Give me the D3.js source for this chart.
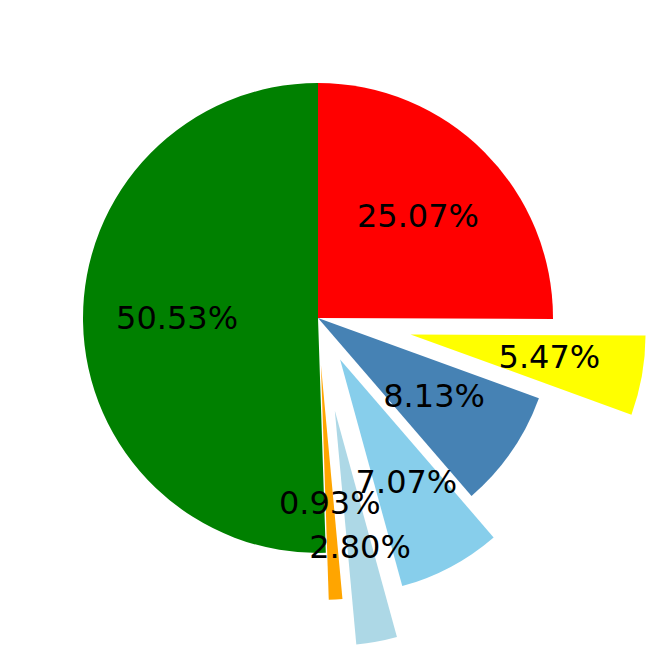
<!DOCTYPE html>
<html>
<head>
<meta charset="utf-8">
<script src="https://cdn.jsdelivr.net/npm/d3@7"></script>
<style>
  body { margin: 0; background: #fff; }
  text { font-family: "DejaVu Sans", sans-serif; }
</style>
</head>
<body>
<svg></svg>
<script>
let values = [25.07, 5.47, 8.13, 7.07, 2.80, 0.93, 50.53]
let colors = ['red', 'yellow', 'steelblue', 'skyblue', 'lightblue', 'orange', 'green']
let explode = [0, 0.4, 0, 0.2, 0.4, 0.2, 0]

let svgWidth = 664,
    svgHeight = 664,
    radius = 235

let svg = d3.select('svg')
    .attr('width', svgWidth)
    .attr('height', svgHeight)

// GROUP TO CONTAIN CHART
let g = svg.append('g')
    .attr('transform', 'translate(318, 318)')

// clockwise from the top, like startangle=90 counterclock=False
let pie = d3.pie()
    .value(d => d)
    .sort(null)

let slices = pie(values)

let path = d3.arc()
    .outerRadius(radius)
    .innerRadius(0)

let shift = (d, i) => {
    let mid = (d.startAngle + d.endAngle) / 2
    let r = explode[i] * radius
    return [Math.sin(mid) * r, -Math.cos(mid) * r]
}

let arc = g.selectAll('g.slice')
    .data(slices)
    .enter()
    .append('g')
    .attr('class', 'slice')
    .attr('transform', (d, i) => `translate(${shift(d, i)})`)

arc.append('path')
    .attr('d', path)
    .attr('fill', (d, i) => colors[i])

// labels on top of all wedges, at 0.6 radius
let label = d3.arc()
    .outerRadius(radius * 1.2)
    .innerRadius(0)

g.selectAll('text')
    .data(slices)
    .enter()
    .append('text')
    .attr('transform', (d, i) => {
        let s = shift(d, i)
        let c = label.centroid(d)
        return `translate(${s[0] + c[0]}, ${s[1] + c[1]})`
    })
    .attr('text-anchor', 'middle')
    .attr('dy', '0.27em')
    .attr('font-size', '32px')
    .attr('fill', '#000')
    .text(d => `${d.data.toFixed(2)}%`)
</script>
</body>
</html>
